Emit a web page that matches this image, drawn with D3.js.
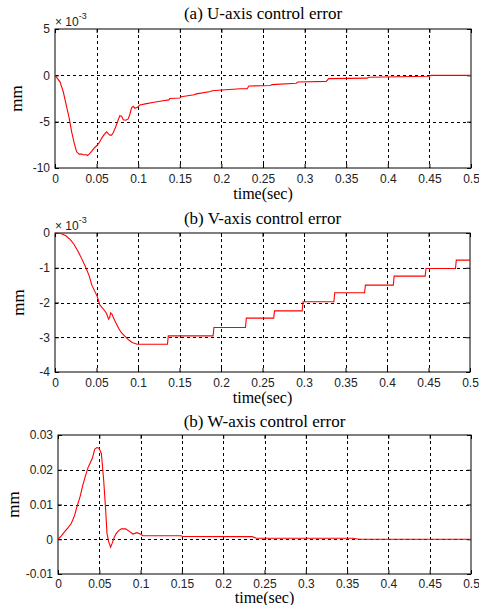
<!DOCTYPE html>
<html>
<head>
<meta charset="utf-8">
<script src="https://cdn.jsdelivr.net/npm/d3@7"></script>
<style>
  body { margin: 0; background: #fff; }
  svg { display: block; }
</style>
</head>
<body>
<div id="chart"></div>
<script>
// time axis, shared by the three panels
const timeTicks = [0, 0.05, 0.1, 0.15, 0.2, 0.25, 0.3, 0.35, 0.4, 0.45, 0.5];

// (a) U-axis error, values in 1e-3 mm
const uTime = [0, 0.006, 0.010, 0.014, 0.017, 0.020, 0.023, 0.026, 0.029, 0.032, 0.035, 0.037, 0.039,
  0.041, 0.044, 0.047, 0.050, 0.053, 0.056, 0.059, 0.062, 0.064, 0.066, 0.068, 0.070, 0.073, 0.076,
  0.078, 0.080, 0.082, 0.085, 0.088, 0.090, 0.092, 0.094, 0.096, 0.099, 0.102, 0.110, 0.119, 0.130,
  0.137, 0.138, 0.150, 0.152, 0.167, 0.170, 0.187, 0.189, 0.205, 0.223, 0.231, 0.233, 0.259, 0.261,
  0.290, 0.292, 0.326, 0.329, 0.375, 0.377, 0.450, 0.452, 0.5];
const uError = [0, -0.7, -1.8, -3.4, -4.6, -6.1, -7.3, -8.25, -8.5, -8.5, -8.6, -8.55, -8.65,
  -8.5, -8.2, -7.85, -7.6, -7.3, -6.8, -6.4, -6.1, -6.3, -6.45, -6.45, -6.2, -5.55, -4.8,
  -4.35, -4.4, -4.8, -4.85, -4.7, -4.2, -3.5, -3.35, -3.55, -3.45, -3.2, -3.05, -2.9, -2.75,
  -2.65, -2.5, -2.45, -2.3, -2.1, -2.0, -1.75, -1.66, -1.55, -1.45, -1.45, -1.15, -1.1, -1.0,
  -0.85, -0.72, -0.65, -0.36, -0.3, -0.2, -0.1, 0, 0];
const uTicks = [-10, -5, 0, 5];

// (b) V-axis error, values in 1e-3 mm
const vTime = [0, 0.008, 0.013, 0.0185, 0.023, 0.028, 0.032, 0.0367, 0.041, 0.0444, 0.048, 0.051,
  0.054, 0.058, 0.062, 0.0646, 0.066, 0.067, 0.069, 0.070, 0.073, 0.0766, 0.080, 0.0847, 0.089,
  0.093, 0.099, 0.1355, 0.1365, 0.1905, 0.1915, 0.2295, 0.2305, 0.2635, 0.2645, 0.2978, 0.2988,
  0.336, 0.337, 0.373, 0.374, 0.4076, 0.4086, 0.446, 0.447, 0.4825, 0.4835, 0.5];
const vError = [0, -0.02, -0.08, -0.19, -0.33, -0.54, -0.73, -0.97, -1.22, -1.5, -1.68, -1.83,
  -2.07, -2.18, -2.31, -2.48, -2.42, -2.30, -2.35, -2.42, -2.57, -2.74, -2.87, -2.98, -3.08,
  -3.15, -3.2, -3.2, -2.96, -2.96, -2.72, -2.72, -2.45, -2.45, -2.24, -2.24, -1.98,
  -1.98, -1.72, -1.72, -1.5, -1.5, -1.24, -1.24, -1.02, -1.02, -0.78, -0.78];
const vTicks = [-4, -3, -2, -1, 0];

// W-axis error, values in mm
const wTime = [0, 0.004, 0.0081, 0.012, 0.0162, 0.020, 0.023, 0.027, 0.030, 0.033, 0.036, 0.039,
  0.0416, 0.0444, 0.047, 0.0496, 0.0525, 0.0553, 0.0577, 0.0593, 0.0613, 0.0637, 0.0655, 0.068,
  0.0706, 0.0735, 0.0767, 0.082, 0.0867, 0.0907, 0.0955, 0.0996, 0.1027, 0.149, 0.151, 0.235,
  0.24, 0.357, 0.365, 0.5];
const wError = [0, 0.001, 0.0022, 0.0033, 0.0046, 0.0068, 0.0094, 0.0125, 0.0156, 0.0180, 0.0204, 0.0220,
  0.0233, 0.0259, 0.0264, 0.0262, 0.0247, 0.017, 0.0084, 0.0017, -0.0007, -0.0023, -0.0012, 0.0005,
  0.0017, 0.0025, 0.003, 0.003, 0.0022, 0.0015, 0.0019, 0.0015, 0.001, 0.001, 0.0008, 0.00075,
  0.0003, 0.0003, 0, 0];
const wTicks = [-0.01, 0, 0.01, 0.02, 0.03];

const W = 479, H = 605;
const sansFont = '"Liberation Sans", Arial, sans-serif';
const serifFont = '"Liberation Serif", "Times New Roman", serif';

const svg = d3.select('#chart')
  .append('svg')
  .attr('width', W)
  .attr('height', H);

/**
 * Draws one MATLAB style panel: box, dashed grid, inward ticks, red trace.
 */
const drawPanel = (p) => {
  const x = d3.scaleLinear().domain([0, 0.5]).range([p.left, p.right]);
  const y = d3.scaleLinear().domain(d3.extent(p.yTicks)).range([p.bottom, p.top]);
  const g = svg.append('g');

  // grid
  g.append('g')
    .selectAll('line.vgrid')
    .data(timeTicks.slice(1, -1))
    .enter()
    .append('line')
    .attr('x1', d => Math.round(x(d)) + 0.5)
    .attr('x2', d => Math.round(x(d)) + 0.5)
    .attr('y1', p.top)
    .attr('y2', p.bottom)
    .attr('stroke', '#000')
    .attr('stroke-dasharray', '3,3');

  g.append('g')
    .selectAll('line.hgrid')
    .data(p.yTicks.slice(1, -1))
    .enter()
    .append('line')
    .attr('y1', d => Math.round(y(d)) + 0.5)
    .attr('y2', d => Math.round(y(d)) + 0.5)
    .attr('x1', p.left)
    .attr('x2', p.right)
    .attr('stroke', '#000')
    .attr('stroke-dasharray', '3,3');

  // axes with inward ticks
  const styleAxis = (sel) => {
    sel.select('.domain').remove();
    sel.selectAll('.tick line').attr('stroke', '#000');
    sel.selectAll('text')
      .attr('font-family', sansFont)
      .attr('font-size', 12)
      .attr('fill', '#222');
  };

  g.append('g')
    .attr('transform', `translate(0,${p.bottom})`)
    .call(d3.axisBottom(x).tickValues(timeTicks).tickSize(-4).tickPadding(p.xPad).tickFormat(d => String(d)))
    .call(styleAxis);
  g.append('g')
    .attr('transform', `translate(0,${p.top})`)
    .call(d3.axisTop(x).tickValues(timeTicks).tickSize(-4).tickFormat(''))
    .call(styleAxis);
  g.append('g')
    .attr('transform', `translate(${p.left},0)`)
    .call(d3.axisLeft(y).tickValues(p.yTicks).tickSize(-4).tickPadding(5).tickFormat(d => String(d)))
    .call(styleAxis);
  g.append('g')
    .attr('transform', `translate(${p.right},0)`)
    .call(d3.axisRight(y).tickValues(p.yTicks).tickSize(-4).tickFormat(''))
    .call(styleAxis);

  // box
  g.append('rect')
    .attr('x', p.left)
    .attr('y', p.top)
    .attr('width', p.right - p.left)
    .attr('height', p.bottom - p.top)
    .attr('fill', 'none')
    .attr('stroke', '#000');

  // trace
  const line = d3.line()
    .x((d, i) => x(p.time[i]))
    .y(d => y(d));
  g.append('path')
    .datum(p.values)
    .attr('d', line)
    .attr('fill', 'none')
    .attr('stroke', '#ff0000')
    .attr('stroke-width', 1.1);

  // title
  g.append('text')
    .text(p.title)
    .attr('x', (p.left + p.right) / 2)
    .attr('y', p.titleY)
    .attr('text-anchor', 'middle')
    .attr('font-family', serifFont)
    .attr('font-size', 17);

  // x label
  g.append('text')
    .text('time(sec)')
    .attr('x', (p.left + p.right) / 2)
    .attr('y', p.xLabelY)
    .attr('text-anchor', 'middle')
    .attr('font-family', serifFont)
    .attr('font-size', 16);

  // y label
  g.append('text')
    .text('mm')
    .attr('transform', `translate(${p.mmX},${(p.top + p.bottom) / 2}) rotate(-90)`)
    .attr('text-anchor', 'middle')
    .attr('font-family', serifFont)
    .attr('font-size', 17);

  // exponent note
  if (p.exponent) {
    const t = g.append('text')
      .attr('x', p.left)
      .attr('y', p.top - 3)
      .attr('font-family', sansFont)
      .attr('font-size', 12)
      .attr('fill', '#222');
    t.append('tspan').text('\u00d7 10');
    t.append('tspan').text(p.exponent)
      .attr('font-size', 9)
      .attr('dy', -7);
  }
};

drawPanel({
  time: uTime, values: uError, yTicks: uTicks,
  left: 55, right: 471, top: 29, bottom: 168, xPad: 6,
  title: '(a) U-axis control error', titleY: 19, xLabelY: 198.5, mmX: 22, exponent: '-3'
});

drawPanel({
  time: vTime, values: vError, yTicks: vTicks,
  left: 55, right: 470, top: 233, bottom: 372, xPad: 6,
  title: '(b) V-axis control error', titleY: 223.5, xLabelY: 402.5, mmX: 24, exponent: '-3'
});

drawPanel({
  time: wTime, values: wError, yTicks: wTicks,
  left: 58, right: 471, top: 435, bottom: 574, xPad: 5,
  title: '(b) W-axis control error', titleY: 427, xLabelY: 603, mmX: 18.5, exponent: null
});
</script>
</body>
</html>
